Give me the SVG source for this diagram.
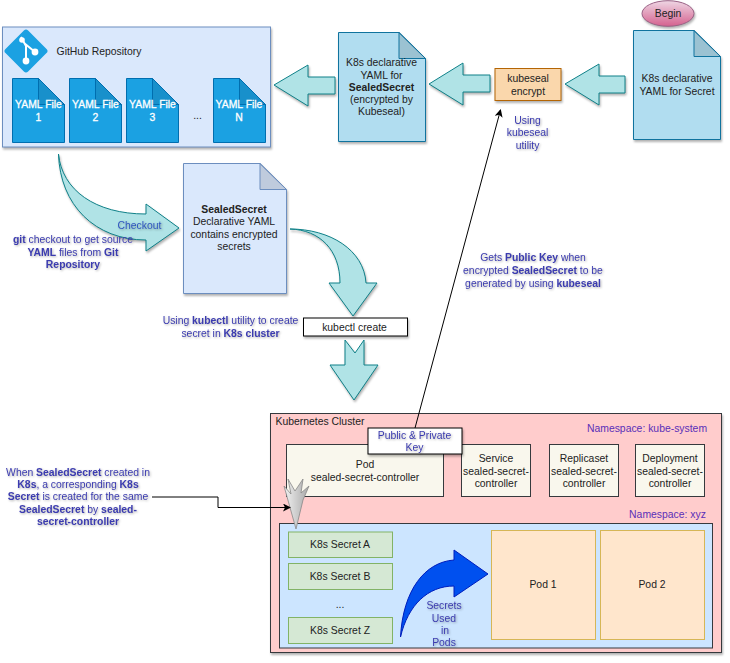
<svg xmlns="http://www.w3.org/2000/svg" width="730" height="663" viewBox="0 0 730 663">
<style>
text{font-family:"Liberation Sans",Arial,sans-serif;font-size:10.4px;fill:#222;text-anchor:middle}
.sh{filter:drop-shadow(1.5px 2px 1.2px rgba(0,0,0,.3))}
.lab{fill:#3b3bb0;filter:drop-shadow(1px 1px .8px rgba(0,0,0,.3))}
.b{font-weight:bold}
.ns{fill:#5a2fb8}
.ar{fill:#b0e3e6;stroke:#0e8088;stroke-width:1}
.doc{fill:#b1ddf0;stroke:#10739e;stroke-width:1}
.fold{fill:#000;fill-opacity:.12;stroke:#10739e;stroke-width:1}
.yf{fill:#1ba1e2;stroke:#006eaf;stroke-width:1}
.yfold{fill:#000;fill-opacity:.1;stroke:#006eaf;stroke-width:1}
.yt{fill:#fff;stroke:#fff;stroke-width:.3px;font-size:10.4px}
.ctl{fill:#f9f7ed;stroke:#36393d;stroke-width:1}
.sec{fill:#d5e8d4;stroke:#82b366;stroke-width:1}
.pod{fill:#ffe6cc;stroke:#d6b656;stroke-width:1}
.conn{fill:none;stroke:#000;stroke-width:1}
</style>
<defs>
<linearGradient id="beg" x1="0" y1="0" x2="0" y2="1"><stop offset="0" stop-color="#eed6e4"/><stop offset="1" stop-color="#d5628f"/></linearGradient>
<linearGradient id="gry" x1="0" y1="0" x2="1" y2="0"><stop offset="0" stop-color="#f2f2f2"/><stop offset="1" stop-color="#a8a8a8"/></linearGradient>
<marker id="tri" markerWidth="8" markerHeight="8" refX="7" refY="4" orient="auto" markerUnits="userSpaceOnUse"><path d="M0 0L8 4L0 8L2 4Z" fill="#000"/></marker>
</defs>

<g id="github-repo">
<rect class="sh" x="2.500" y="27" width="268" height="120" fill="#dae8fc" stroke="#6c8ebf"/>
<rect x="10" y="35" width="32" height="32" rx="3" transform="rotate(45 26 51)" fill="#1ba1e2"/>
<path d="M21 37L26 46L26 60M24 43L35 52" fill="none" stroke="#fff" stroke-width="2"/>
<circle cx="26" cy="61" r="3.400" fill="#fff"/><circle cx="35" cy="52" r="3.400" fill="#fff"/><circle cx="22" cy="40" r="2.800" fill="#fff"/>
<text x="99" y="54.500">GitHub Repository</text>
<g id="yaml1"><path class="yf" d="M12.500 78.500H38.500L64.500 104.500V142.500H12.500Z"/><path class="yfold" d="M38.500 78.500V104.500H64.500Z"/><text class="yt" x="38.500" y="108">YAML File</text><text class="yt" x="38.500" y="121">1</text></g>
<g id="yaml2"><path class="yf" d="M69.500 78.500H95.500L121.500 104.500V142.500H69.500Z"/><path class="yfold" d="M95.500 78.500V104.500H121.500Z"/><text class="yt" x="95.500" y="108">YAML File</text><text class="yt" x="95.500" y="121">2</text></g>
<g id="yaml3"><path class="yf" d="M126.500 78.500H152.500L178.500 104.500V142.500H126.500Z"/><path class="yfold" d="M152.500 78.500V104.500H178.500Z"/><text class="yt" x="152.500" y="108">YAML File</text><text class="yt" x="152.500" y="121">3</text></g>
<text x="197.500" y="119">...</text>
<g id="yamlN"><path class="yf" d="M213.500 78.500H239.500L265.500 104.500V142.500H213.500Z"/><path class="yfold" d="M239.500 78.500V104.500H265.500Z"/><text class="yt" x="239" y="108">YAML File</text><text class="yt" x="239" y="121">N</text></g>
</g>

<g id="sealed-doc">
<path class="doc sh" d="M338.500 32.500H399L425.500 58.500V141.500H338.500Z"/><path class="fold" d="M399 32.500V58.500H425.500Z"/>
<text x="381.500" y="66">K8s declarative</text><text x="381.500" y="78.500">YAML for</text><text x="381.500" y="90.500" class="b">SealedSecret</text><text x="381.500" y="103">(encrypted by</text><text x="381.500" y="115">Kubeseal)</text>
</g>

<g id="kubeseal">
<rect class="sh" x="495" y="68.500" width="66" height="32" fill="#fad7ac" stroke="#b46504"/>
<text x="528" y="81.500">kubeseal</text><text x="528" y="94.500">encrypt</text>
</g>

<g id="secret-doc">
<path class="doc sh" d="M633.500 30.500H694L720.500 56.500V139.500H633.500Z"/><path class="fold" d="M694 30.500V56.500H720.500Z"/>
<text x="677" y="81.500">K8s declarative</text><text x="677" y="94.500">YAML for Secret</text>
</g>

<g id="begin">
<ellipse class="sh" cx="668" cy="13.500" rx="26" ry="12.800" fill="url(#beg)" stroke="#996185"/>
<text x="668" y="17">Begin</text>
</g>

<g id="sealedsecret-yaml">
<path class="sh" d="M183.500 163.500H260L286.500 189.500V293.500H183.500Z" fill="#dae8fc" stroke="#6c8ebf"/>
<path d="M260 163.500V189.500H286.500Z" fill="#000" fill-opacity=".12" stroke="#6c8ebf"/>
<text x="234" y="213" class="b">SealedSecret</text><text x="234" y="225">Declarative YAML</text><text x="234" y="238">contains encrypted</text><text x="234" y="250">secrets</text>
</g>

<g id="kubectl-create">
<rect class="sh" x="303.500" y="318" width="104" height="18" fill="#fff" stroke="#000"/>
<text x="354.500" y="330.500">kubectl create</text>
</g>

<g id="cluster">
<rect class="sh" x="270.500" y="413.500" width="451" height="239" fill="#ffcccc" stroke="#36393d"/>
<text x="320" y="425">Kubernetes Cluster</text>
<text class="ns" x="647" y="432">Namespace: kube-system</text>
<text class="ns" x="667.500" y="518">Namespace: xyz</text>
</g>

<g id="pod-controller"><rect class="ctl" x="286.500" y="444.500" width="157" height="52"/><text x="365" y="468">Pod</text><text x="365" y="481">sealed-secret-controller</text></g>
<g id="service"><rect class="ctl" x="461.500" y="444.500" width="69" height="52"/><text x="496" y="462">Service</text><text x="496" y="474.500">sealed-secret-</text><text x="496" y="487">controller</text></g>
<g id="replicaset"><rect class="ctl" x="549.500" y="444.500" width="69" height="52"/><text x="584" y="462">Replicaset</text><text x="584" y="474.500">sealed-secret-</text><text x="584" y="487">controller</text></g>
<g id="deployment"><rect class="ctl" x="635.500" y="444.500" width="69" height="52"/><text x="670" y="462">Deployment</text><text x="670" y="474.500">sealed-secret-</text><text x="670" y="487">controller</text></g>

<g id="keys"><rect class="sh" x="368" y="428" width="94" height="26" fill="#fff" stroke="#000"/><text class="lab" x="414.500" y="438.500">Public &amp; Private</text><text class="lab" x="414.500" y="451">Key</text></g>

<g id="namespace-xyz"><rect x="279.500" y="523.500" width="433" height="124.500" fill="#cce5ff" stroke="#36393d"/></g>
<g id="secret-a"><rect class="sec" x="288.500" y="532" width="104" height="25.500"/><text x="340" y="548">K8s Secret A</text></g>
<g id="secret-b"><rect class="sec" x="288.500" y="563.500" width="104" height="26"/><text x="340" y="580">K8s Secret B</text></g>
<text x="340" y="608">...</text>
<g id="secret-z"><rect class="sec" x="288.500" y="617.500" width="104" height="26"/><text x="340" y="633.500">K8s Secret Z</text></g>
<g id="pod-1"><rect class="pod" x="491.500" y="530.500" width="104" height="109"/><text x="543" y="588">Pod 1</text></g>
<g id="pod-2"><rect class="pod" x="600.500" y="530.500" width="104" height="109"/><text x="652" y="588">Pod 2</text></g>

<g id="connectors">
<path class="ar sh" d="M274 85L308 65V77H335V94H308V106Z"/>
<path class="ar sh" d="M429 84L463 63V75H490V92H463V105Z"/>
<path class="ar sh" d="M565 84L599 64V76H625V93H599V105Z"/>
<path class="ar sh" d="M58.500 154C62 190 95 214 146 214V204L179 228L146 251V240C95 240 60 205 58.500 154Z"/>
<path class="ar sh" d="M290 229C320 230 340 250 340 283H329L353 316L377 283H366C364 250 330 229 290 229Z"/>
<path class="ar sh" d="M345 340L355 353L364 340V365H378L354 400L330 365H345Z"/>
<path d="M400.500 637C403 590 425 562 454 560V550L488 574L454 597V586C428 586 408 605 400.500 637Z" fill="#0050ef" stroke="#001dbc"/>
<path d="M296 529L284 486L291 494L288 479L295 491L303 479L301 493L309 486L303 500Z" fill="url(#gry)" stroke="#888" stroke-width=".8"/>
<path class="conn" d="M415 428L500.500 110" marker-end="url(#tri)"/>
<path class="conn" d="M152 497H218V507.500H290" marker-end="url(#tri)"/>
</g>

<g id="labels">
<text class="lab" x="527.500" y="124">Using</text><text class="lab" x="527.500" y="136">kubeseal</text><text class="lab" x="527.500" y="149">utility</text>
<text class="lab" x="139.500" y="229" style="fill:#2f55c0">Checkout</text>
<text class="lab" x="73" y="243"><tspan class="b">git</tspan> checkout to get source</text>
<text class="lab" x="73" y="255.500"><tspan class="b">YAML</tspan> files from <tspan class="b">Git</tspan></text>
<text class="lab" x="73" y="268"><tspan class="b">Repository</tspan></text>
<text class="lab" x="230.500" y="323.500">Using <tspan class="b">kubectl</tspan> utility to create</text>
<text class="lab" x="230.500" y="336.500">secret in <tspan class="b">K8s cluster</tspan></text>
<text class="lab" x="533" y="261">Gets <tspan class="b">Public Key</tspan> when</text>
<text class="lab" x="533" y="274">encrypted <tspan class="b">SealedSecret</tspan> to be</text>
<text class="lab" x="533" y="287">generated by using <tspan class="b">kubeseal</tspan></text>
<text class="lab" x="78" y="475.500">When <tspan class="b">SealedSecret</tspan> created in</text>
<text class="lab" x="78" y="488"><tspan class="b">K8s</tspan>, a corresponding <tspan class="b">K8s</tspan></text>
<text class="lab" x="78" y="500"><tspan class="b">Secret</tspan> is created for the same</text>
<text class="lab" x="78" y="513"><tspan class="b">SealedSecret</tspan> by <tspan class="b">sealed-</tspan></text>
<text class="lab" x="78" y="525"><tspan class="b">secret-controller</tspan></text>
<text class="lab" x="444" y="609">Secrets</text><text class="lab" x="444" y="621.500">Used</text><text class="lab" x="445" y="633.500">in</text><text class="lab" x="444" y="646">Pods</text>
</g>
</svg>
